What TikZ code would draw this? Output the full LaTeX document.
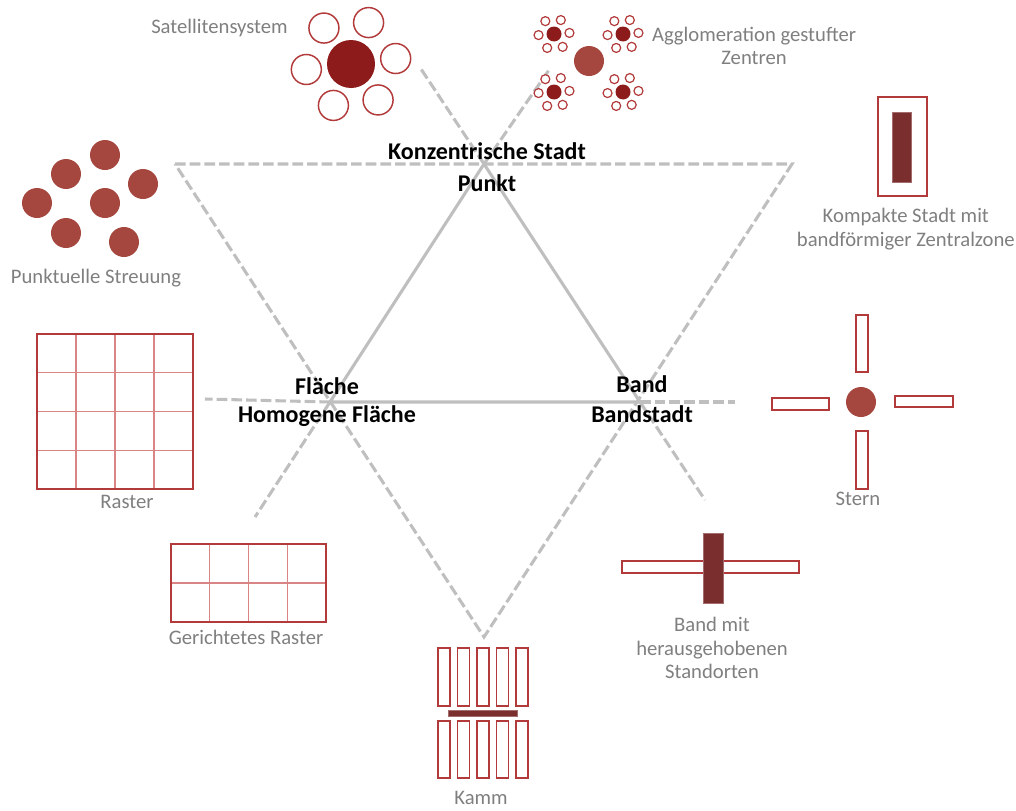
\documentclass[tikz,border=0pt]{standalone}
\usepackage{fontspec}
\setmainfont{Carlito}
\usepackage{xcolor}
\usepackage{tikz}
\usetikzlibrary{positioning}
\definecolor{darkred}{HTML}{8E1B1B}
\definecolor{midred}{HTML}{A5463F}
\definecolor{barred}{HTML}{7B2E2E}
\definecolor{linered}{HTML}{B23A3A}
\definecolor{gridred}{HTML}{D98585}
\definecolor{labelgray}{HTML}{7F7F7F}
\definecolor{hexgray}{HTML}{BFBFBF}

\begin{document}
\begin{tikzpicture}[x=0.75pt,y=-0.75pt,caption/.style={font=\fontsize{15.5}{17.6}\selectfont,text=labelgray,align=center,inner sep=0pt},pole/.style={font=\fontsize{18}{21}\selectfont\bfseries,inner sep=0pt},solidside/.style={draw=hexgray,line width=2.3pt},dashside/.style={draw=hexgray,line width=2.3pt,dash pattern=on 8pt off 3pt},ring/.style={draw=linered,line width=1.1pt,fill=white},strip/.style={draw=linered,line width=0.9pt,fill=white},bar/.style={fill=barred,draw=barred!70}]
\useasboundingbox (0,0) rectangle (1016,810);
% hexagram
\coordinate (punkt) at (484,164);
\coordinate (flaeche) at (330,402);
\coordinate (band) at (640,402);
\coordinate (tl) at (175,164);
\coordinate (tr) at (792,164);
\coordinate (kamm) at (484,637);
\coordinate (endnw) at (421,69);
\coordinate (endne) at (549,70);
\coordinate (endsw) at (255,517);
\coordinate (endse) at (705,500);
\coordinate (endw) at (205,399);
\coordinate (ende) at (735,402);
\draw[dashside] (tl)--(tr)--(kamm)--cycle;
\draw[dashside] (punkt)--(endnw);
\draw[dashside] (punkt)--(endne);
\draw[dashside] (flaeche)--(endsw);
\draw[dashside] (band)--(endse);
\draw[dashside] (flaeche)--(endw);
\draw[dashside] (band)--(ende);
\draw[solidside] (punkt)--(flaeche)--(band)--cycle;
\node[pole] (konz) at (487,151) {Konzentrische Stadt};
\node[pole] (punktlbl) at (487,183) {Punkt};
\node[pole] (flaechelbl) at (327,386) {Fläche};
\node[pole] (homogen) at (327,416) {Homogene Fläche};
\node[pole] (bandlbl) at (642,384) {Band};
\node[pole] (bandstadt) at (642,414) {Bandstadt};
% Satellitensystem
\fill[darkred] (351,64) circle (24);
\foreach \a in {-7,53,...,293} \draw[ring] (351,64) ++(\a:45) circle (15);
\node[caption,anchor=east] (satlbl) at (288,28) {Satellitensystem};
% Agglomeration
\fill[midred] (589,61) circle (15);
\foreach \cx/\cy in {554/34,623/34,554/92,623/92}{
  \fill[darkred] (\cx,\cy) circle (7.5);
  \foreach \a in {-4,56,...,296} \draw[ring,line width=0.9pt] (\cx,\cy) ++(\a:15.5) circle (4.5);
}
\node[caption] (agglbl) at (754,46) {Agglomeration gestufter\\Zentren};
% Kompakte Stadt
\draw[strip] (878,97) rectangle (927,196);
\draw[bar] (892,112) rectangle (911,182);
\node[caption,anchor=east] (komplbl) at (1015,229) {Kompakte Stadt mit\\bandförmiger Zentralzone};
% Stern
\fill[midred] (861,402) circle (15);
\draw[strip] (856,315) rectangle (868,372);
\draw[strip] (856,431) rectangle (868,489);
\draw[strip] (772,398) rectangle (829,410);
\draw[strip] (895,396) rectangle (953,407);
\node[caption] (sternlbl) at (858,499) {Stern};
% Punktuelle Streuung
\foreach \px/\py in {105/155,66/174,143/184,37/203,105/203,66/233,124/242} \fill[midred] (\px,\py) circle (15);
\node[caption] (streulbl) at (96,278) {Punktuelle Streuung};
% Raster
\foreach \i in {1,2,3}{
  \draw[gridred,line width=1.1pt] (37+39*\i,334)--(37+39*\i,489);
  \draw[gridred,line width=1.1pt] (37,334+38.75*\i)--(193,334+38.75*\i);
}
\draw[linered,line width=1pt] (37,334) rectangle (193,489);
\node[caption] (rasterlbl) at (127,502) {Raster};
% Gerichtetes Raster
\foreach \i in {1,2,3} \draw[gridred,line width=1.1pt] (171+38.75*\i,544)--(171+38.75*\i,622);
\draw[gridred,line width=1.1pt] (171,583)--(326,583);
\draw[linered,line width=1pt] (171,544) rectangle (326,622);
\node[caption] (grasterlbl) at (246,637) {Gerichtetes Raster};
% Kamm
\foreach \kx in {438,457.5,477,496.5,516}{
  \draw[strip] (\kx,648) rectangle ++(12,58);
  \draw[strip] (\kx,721) rectangle ++(12,57);
}
\draw[bar] (448,710) rectangle (517,716);
\node[caption] (kammlbl) at (481,798) {Kamm};
% Band mit herausgehobenen Standorten
\draw[strip] (622,561) rectangle (799,573);
\draw[bar] (703,533) rectangle (723,603);
\node[caption] (bandmitlbl) at (712,648) {Band mit\\herausgehobenen\\Standorten};
\end{tikzpicture}
\end{document}
